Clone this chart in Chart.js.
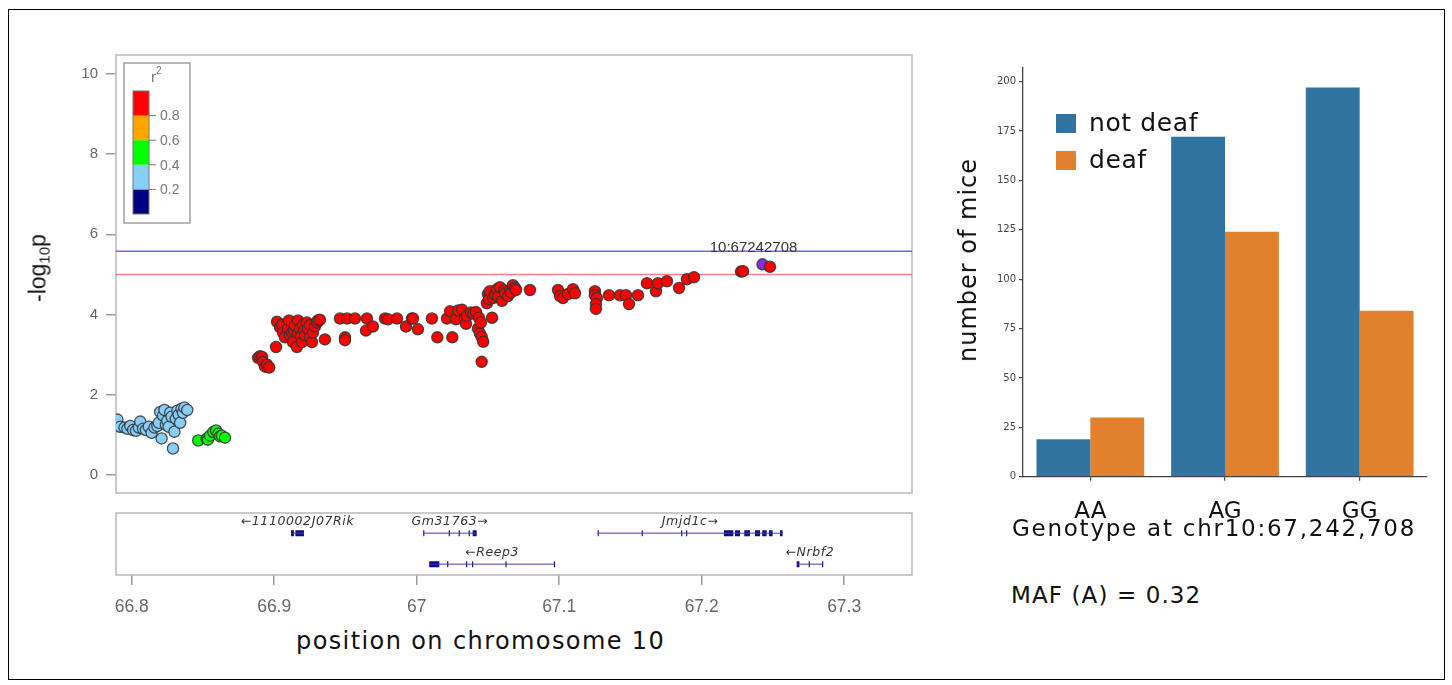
<!DOCTYPE html>
<html lang="en">
<head>
<meta charset="UTF-8" />
<title>Chr10 association and genotype counts</title>
<script src="https://cdn.jsdelivr.net/npm/chart.js"></script>
<style>
  body { margin: 0; background: #fff; }
  #page { position: relative; width: 1452px; height: 685px; overflow: hidden; }
  #frame { position: absolute; left: 8px; top: 9px; width: 1435px; height: 669px; border: 1.5px solid #000; }
  canvas { position: absolute; }
  .lbl { position: absolute; white-space: nowrap; line-height: 1; color: #111; font-family: "DejaVu Sans", sans-serif; }
  .rot { transform: translate(-50%, -50%) rotate(-90deg); }
  .lbl sub { font-size: 15px; vertical-align: -4px; }
</style>
</head>
<body>
<div id="page">
  <div id="frame"></div>
  <canvas id="assocChart" width="930" height="510" style="left:0;top:0"></canvas>
  <canvas id="geneChart" width="930" height="120" style="left:0;top:505px"></canvas>
  <canvas id="countChart" width="515" height="540" style="left:930px;top:0"></canvas>

  <div class="lbl rot" style="left:39px;top:268px;font-family:'Liberation Sans';font-size:23px">-log<sub>10</sub>p</div>
  <div class="lbl" style="left:296px;top:629px;font-size:24px;letter-spacing:1.4px">position on chromosome 10</div>
  <div class="lbl rot" style="left:968px;top:260px;font-size:24px;letter-spacing:1px">number of mice</div>
  <div class="lbl" style="left:1012px;top:517px;font-size:23px;letter-spacing:1.75px">Genotype at chr10:67,242,708</div>
  <div class="lbl" style="left:1011px;top:584px;font-size:23px;letter-spacing:1.1px">MAF (A) = 0.32</div>
</div>

<script>
  // ---- association plot (left) ----
  const posTicks = [66.8, 66.9, 67, 67.1, 67.2, 67.3];
  const logpTicks = [0, 2, 4, 6, 8, 10];
  const ldBreaks = [0.2, 0.4, 0.6, 0.8];
  const ldColors = ['#000080', '#87cefa', '#00ff00', '#ffa500', '#ff0000'];
  const suggestiveLine = 5;
  const significantLine = 5.58;

  // r2 0.2-0.4
  const lowLdPos = [66.790, 66.792, 66.795, 66.797, 66.799, 66.801, 66.803, 66.805, 66.806, 66.808,
    66.810, 66.812, 66.814, 66.816, 66.818, 66.819, 66.820, 66.821, 66.822, 66.823, 66.824, 66.825,
    66.826, 66.827, 66.828, 66.829, 66.830, 66.831, 66.832, 66.833, 66.834, 66.835, 66.836, 66.837, 66.839];
  const lowLdLogP = [1.38, 1.20, 1.18, 1.15, 1.22, 1.12, 1.10, 1.18, 1.33, 1.15,
    1.12, 1.20, 1.05, 1.18, 1.22, 1.30, 1.57, 0.91, 1.48, 1.62, 1.25, 1.35,
    1.20, 1.55, 1.45, 0.66, 1.08, 1.40, 1.60, 1.50, 1.30, 1.65, 1.55, 1.68, 1.62];

  // r2 0.4-0.6
  const midLdPos = [66.8467, 66.8526, 66.8535, 66.855, 66.8573, 66.8592, 66.8608, 66.8620, 66.8632, 66.8655];
  const midLdLogP = [0.86, 0.90, 0.88, 0.98, 1.07, 1.11, 1.03, 0.96, 0.98, 0.93];

  // r2 >= 0.8
  const highLdPos = [66.8887, 66.8901, 66.8915, 66.8922, 66.8936, 66.8950, 66.8965, 66.9013,
    66.9020, 66.9041, 66.9055, 66.9062, 66.9076, 66.9090, 66.9097, 66.9104, 66.9111, 66.9125,
    66.9132, 66.9139, 66.9146, 66.9160, 66.9167, 66.9167, 66.9181, 66.9188, 66.9195, 66.9202,
    66.9209, 66.9216, 66.9230, 66.9237, 66.9251, 66.9251, 66.9265, 66.9272, 66.9286, 66.9300,
    66.9307, 66.9321, 66.9356,
    66.9462, 66.9497, 66.9497, 66.9511, 66.9567, 66.9644, 66.9651, 66.9693, 66.9778, 66.9799,
    66.9862, 66.9925, 66.9967, 66.9974, 67.0009,
    67.0107, 67.0145, 67.0213, 67.0234, 67.0250, 67.0276, 67.0290, 67.0318, 67.0339, 67.0346,
    67.0353, 67.0381, 67.0400, 67.0416, 67.0430, 67.0437, 67.0444, 67.0451, 67.0456, 67.0467,
    67.0456, 67.0529,
    67.0493, 67.0500, 67.0507, 67.0514, 67.0536, 67.0550, 67.0564, 67.0571, 67.0585, 67.0599,
    67.0613, 67.0620, 67.0641, 67.0655, 67.0662, 67.0676, 67.0690, 67.0697, 67.0795,
    67.0992, 67.1006, 67.1027, 67.1062, 67.1097, 67.1111,
    67.1251, 67.1251, 67.1265, 67.1258, 67.1258, 67.1350, 67.1427, 67.1469, 67.1490, 67.1553,
    67.1616, 67.1679, 67.1693, 67.1756, 67.1841, 67.1897, 67.1946, 67.2276, 67.2290, 67.2479];
  const highLdLogP = [2.92, 2.96, 2.94, 2.82, 2.70, 2.75, 2.68, 3.19,
    3.82, 3.68, 3.75, 3.55, 3.43, 3.77, 3.65, 3.85, 3.48, 3.55,
    3.31, 3.60, 3.73, 3.19, 3.85, 3.53, 3.65, 3.45, 3.31, 3.73,
    3.60, 3.48, 3.80, 3.65, 3.73, 3.43, 3.31, 3.55, 3.70, 3.80,
    3.85, 3.87, 3.38,
    3.90, 3.43, 3.36, 3.90, 3.90, 3.60, 3.90, 3.70, 3.90, 3.88,
    3.90, 3.70, 3.90, 3.90, 3.63,
    3.90, 3.43, 3.90, 4.08, 3.43, 3.88, 4.10, 4.12, 3.90, 3.77,
    3.97, 4.05, 4.02, 4.06, 3.65, 3.92, 3.53, 3.80, 3.44, 3.32,
    2.82, 3.92,
    4.28, 4.51, 4.38, 4.58, 4.41, 4.50, 4.63, 4.45, 4.68, 4.34,
    4.60, 4.53, 4.46, 4.61, 4.55, 4.73, 4.66, 4.61, 4.61,
    4.61, 4.46, 4.41, 4.51, 4.63, 4.53,
    4.58, 4.48, 4.41, 4.26, 4.14, 4.48, 4.48, 4.48, 4.26, 4.48,
    4.78, 4.58, 4.78, 4.83, 4.66, 4.88, 4.93, 5.07, 5.08, 5.19];

  const leadSnp = '10:67242708';
  const leadPos = [67.2427];
  const leadLogP = [5.25];

  // ---- gene track ----
  const geneNames = ['1110002J07Rik', 'Gm31763', 'Reep3', 'Jmjd1c', 'Nrbf2'];
  const geneStrand = [-1, 1, -1, 1, -1];
  const geneRow = [1, 1, 0, 1, 0];
  const geneStart = [66.9118, 67.0046, 67.0088, 67.1270, 67.2667];
  const geneEnd = [66.9209, 67.0421, 67.0971, 67.2568, 67.2853];
  const geneExons = [
    [[66.9118, 66.9139], [66.9149, 66.9209]],
    [[67.0046, 67.0054], [67.0225, 67.0233], [67.0295, 67.0303], [67.0365, 67.0373], [67.0393, 67.0421]],
    [[67.0088, 67.0159], [67.0214, 67.0222], [67.0347, 67.0355], [67.0389, 67.0397], [67.0623, 67.0631], [67.0963, 67.0971]],
    [[67.1270, 67.1278], [67.1579, 67.1587], [67.1856, 67.1864], [67.1891, 67.1899], [67.2156, 67.2222],
     [67.2234, 67.2269], [67.2299, 67.2339], [67.2374, 67.2409], [67.2425, 67.2456], [67.2472, 67.2498], [67.2550, 67.2568]],
    [[67.2667, 67.2686], [67.2751, 67.2759], [67.2845, 67.2853]]
  ];

  // ---- genotype counts (right) ----
  const genotypes = ['AA', 'AG', 'GG'];
  const notDeafCounts = [19, 172, 197];
  const deafCounts = [30, 124, 84];
  const countTicks = [0, 25, 50, 75, 100, 125, 150, 175, 200];

  Chart.defaults.font.family = 'DejaVu Sans';
  const xMin = 66.789, xMax = 67.3476;
  const pts = (xs, ys) => xs.map((x, i) => ({ x, y: ys[i] }));
  const tickList = arr => s => { s.ticks = arr.map(v => ({ value: v })); };

  const plotBox = {
    id: 'plotBox',
    beforeDatasetsDraw(chart) {
      const { ctx, chartArea: a } = chart;
      ctx.save();
      ctx.strokeStyle = '#b9b9b9';
      ctx.lineWidth = 1.5;
      ctx.strokeRect(a.left, a.top, a.right - a.left, a.bottom - a.top);
      ctx.restore();
    }
  };

  const thresholds = {
    id: 'thresholds',
    beforeDatasetsDraw(chart) {
      const { ctx, chartArea: a, scales: { y } } = chart;
      ctx.save();
      ctx.lineWidth = 1.5;
      [[significantLine, 'rgba(40,40,255,0.7)'], [suggestiveLine, 'rgba(255,40,40,0.6)']].forEach(([v, c]) => {
        const py = y.getPixelForValue(v);
        ctx.strokeStyle = c;
        ctx.beginPath(); ctx.moveTo(a.left, py); ctx.lineTo(a.right, py); ctx.stroke();
      });
      ctx.restore();
    }
  };

  const leadLabel = {
    id: 'leadLabel',
    afterDatasetsDraw(chart) {
      const { ctx, scales: { x, y } } = chart;
      ctx.save();
      ctx.font = '15px "Liberation Sans"';
      ctx.fillStyle = '#333';
      ctx.textAlign = 'center';
      ctx.textBaseline = 'middle';
      ctx.fillText(leadSnp, x.getPixelForValue(leadPos[0]) - 9, y.getPixelForValue(leadLogP[0]) - 17);
      ctx.restore();
    }
  };

  const ldLegend = {
    id: 'ldLegend',
    afterDraw(chart) {
      const { ctx, chartArea: a } = chart;
      const x0 = a.left + 8, y0 = a.top + 8, w = 66, h = 160;
      const barX = x0 + 9, barW = 16, segH = 24.6, barTop = y0 + 28;
      const n = ldColors.length;
      ctx.save();
      ctx.fillStyle = '#fff';
      ctx.fillRect(x0, y0, w, h);
      ctx.strokeStyle = '#a0a0a0';
      ctx.lineWidth = 1.5;
      ctx.strokeRect(x0, y0, w, h);
      ldColors.forEach((c, i) => {
        ctx.fillStyle = c;
        ctx.fillRect(barX, barTop + (n - 1 - i) * segH, barW, segH);
      });
      ctx.strokeStyle = '#777';
      ctx.lineWidth = 1;
      ctx.strokeRect(barX, barTop, barW, segH * n);
      ctx.font = '14px "Liberation Sans"';
      ctx.fillStyle = '#777';
      ctx.textBaseline = 'middle';
      ldBreaks.forEach((b, i) => {
        const py = barTop + (n - 1 - i) * segH;
        ctx.beginPath(); ctx.moveTo(barX + barW, py); ctx.lineTo(barX + barW + 7, py); ctx.stroke();
        ctx.fillText(b.toFixed(1), barX + barW + 11, py + 1);
      });
      ctx.font = '15px "Liberation Sans"';
      ctx.fillText('r', x0 + 27, y0 + 15);
      ctx.font = '10px "Liberation Sans"';
      ctx.fillText('2', x0 + 32, y0 + 8);
      ctx.restore();
    }
  };

  const dot = (label, data, color) => ({
    label, data, backgroundColor: color,
    borderColor: 'rgba(50,50,50,0.85)', borderWidth: 1.3, pointRadius: 5.6
  });

  new Chart(document.getElementById('assocChart'), {
    type: 'scatter',
    data: {
      datasets: [
        dot('r2 0.2-0.4', pts(lowLdPos, lowLdLogP), ldColors[1]),
        dot('r2 0.4-0.6', pts(midLdPos, midLdLogP), ldColors[2]),
        dot('r2 0.8-1', pts(highLdPos, highLdLogP), ldColors[4]),
        dot(leadSnp, pts(leadPos, leadLogP), '#8a2be2')
      ]
    },
    options: {
      responsive: false,
      animation: false,
      layout: { padding: { top: 55, right: 18, bottom: 10, left: 0 } },
      plugins: { legend: { display: false }, tooltip: { enabled: false } },
      scales: {
        x: { type: 'linear', display: false, min: xMin, max: xMax },
        y: {
          min: -0.45, max: 10.47,
          afterFit: s => { s.width = 116; },
          afterBuildTicks: tickList(logpTicks),
          border: { display: false },
          grid: { drawOnChartArea: false, tickLength: 10, color: '#9a9a9a', lineWidth: 1.5 },
          ticks: { padding: 8, color: '#666', font: { family: 'Liberation Sans', size: 15 } }
        }
      }
    },
    plugins: [plotBox, thresholds, leadLabel, ldLegend]
  });

  // gene track chart
  const geneSets = [];
  geneNames.forEach((g, i) => {
    geneSets.push({
      data: [{ x: geneStart[i], y: geneRow[i] }, { x: geneEnd[i], y: geneRow[i] }],
      borderColor: '#3b3bb5', borderWidth: 1, pointRadius: 0
    });
    const ex = [];
    geneExons[i].forEach(([s, e]) => {
      ex.push({ x: s, y: geneRow[i] }, { x: e, y: geneRow[i] }, { x: e, y: null });
    });
    geneSets.push({
      data: ex, borderColor: '#0c0c86', borderWidth: 6, borderCapStyle: 'butt',
      pointRadius: 0, spanGaps: false
    });
  });

  const geneLabels = {
    id: 'geneLabels',
    afterDatasetsDraw(chart) {
      const { ctx, scales: { x, y } } = chart;
      ctx.save();
      ctx.font = 'italic 12.5px "DejaVu Sans"';
      ctx.letterSpacing = '0.6px';
      ctx.fillStyle = '#333';
      ctx.textAlign = 'center';
      ctx.textBaseline = 'middle';
      geneNames.forEach((g, i) => {
        const cx = (x.getPixelForValue(geneStart[i]) + x.getPixelForValue(geneEnd[i])) / 2;
        const txt = geneStrand[i] < 0 ? '\u2190' + g : g + '\u2192';
        ctx.fillText(txt, cx, y.getPixelForValue(geneRow[i]) - 11);
      });
      ctx.restore();
    }
  };

  new Chart(document.getElementById('geneChart'), {
    type: 'line',
    data: { datasets: geneSets },
    options: {
      responsive: false,
      animation: false,
      layout: { padding: { top: 8, right: 18, bottom: 0, left: 116 } },
      plugins: { legend: { display: false }, tooltip: { enabled: false } },
      scales: {
        x: {
          type: 'linear', min: xMin, max: xMax,
          afterFit: s => { s.height = 50; },
          afterBuildTicks: tickList(posTicks),
          border: { display: false },
          grid: { drawOnChartArea: false, tickLength: 10, color: '#9a9a9a', lineWidth: 1.5 },
          ticks: {
            padding: 12, color: '#666', font: { family: 'Liberation Sans', size: 17.5 },
            callback: v => String(Number(v.toFixed(1)))
          }
        },
        y: { type: 'linear', display: false, min: -0.35, max: 1.65 }
      }
    },
    plugins: [plotBox, geneLabels]
  });

  // genotype counts chart
  const countLegend = {
    id: 'countLegend',
    afterDraw(chart) {
      const { ctx, chartArea: a } = chart;
      ctx.save();
      ctx.font = '25px "DejaVu Sans"';
      ctx.letterSpacing = '0.6px';
      ctx.textBaseline = 'middle';
      chart.data.datasets.forEach((ds, i) => {
        const top = a.top + 46 + i * 37;
        ctx.fillStyle = ds.backgroundColor;
        ctx.fillRect(a.left + 33, top, 20, 19);
        ctx.fillStyle = '#111';
        ctx.fillText(ds.label, a.left + 66, top + 10);
      });
      ctx.restore();
    }
  };

  new Chart(document.getElementById('countChart'), {
    type: 'bar',
    data: {
      labels: genotypes,
      datasets: [
        { label: 'not deaf', data: notDeafCounts, backgroundColor: '#3274a1' },
        { label: 'deaf', data: deafCounts, backgroundColor: '#e1812c' }
      ]
    },
    options: {
      responsive: false,
      animation: false,
      categoryPercentage: 0.8,
      barPercentage: 1,
      layout: { padding: { top: 68, right: 18, bottom: 0, left: 0 } },
      plugins: { legend: { display: false }, tooltip: { enabled: false } },
      scales: {
        x: {
          afterFit: s => { s.height = 63.3; },
          border: { color: '#444', width: 1.3 },
          grid: { offset: false, drawOnChartArea: false, tickLength: 4, color: '#444', lineWidth: 1.2 },
          ticks: { padding: 18, color: '#111', font: { size: 23 } }
        },
        y: {
          min: 0, max: 206.85,
          afterFit: s => { s.width = 93; },
          afterBuildTicks: tickList(countTicks),
          border: { color: '#444', width: 1.3 },
          grid: { drawOnChartArea: false, tickLength: 4, color: '#444', lineWidth: 1.2 },
          ticks: { padding: 3, color: '#444', font: { size: 10 } }
        }
      }
    },
    plugins: [countLegend]
  });
</script>
</body>
</html>
